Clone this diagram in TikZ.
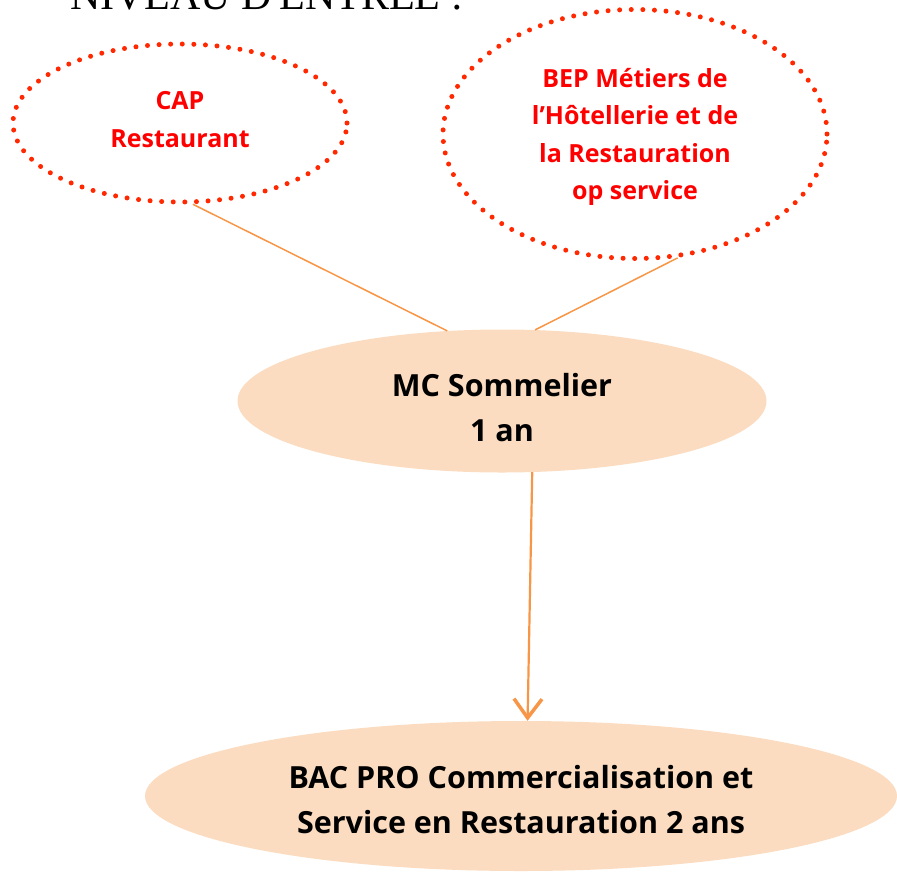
\documentclass[tikz,border=0pt]{standalone}
\usepackage{fontspec}
\setmainfont{Open Sans}
\newfontfamily\titlefont{Liberation Serif}
\usetikzlibrary{shapes.geometric,arrows.meta}
\definecolor{dotred}{RGB}{255,40,0}
\definecolor{txtred}{RGB}{255,0,0}
\definecolor{peach}{RGB}{251,220,192}
\definecolor{linkor}{RGB}{247,150,70}
\newcommand{\nodetext}[2]{\raisebox{#1}[0pt][0pt]{\begin{tabular}{@{}c@{}}#2\end{tabular}}}
\begin{document}
\begin{tikzpicture}[x=1pt,y=-1pt,
  dottedell/.style={ellipse, draw=dotred, line width=5pt, dash pattern=on 0pt off 11.6pt,
    line cap=round, inner sep=0pt, text=txtred,
    font=\fontsize{25}{37.5}\selectfont\bfseries},
  peachell/.style={ellipse, fill=peach, inner sep=0pt,
    font=\fontsize{30.5}{45}\selectfont\bfseries},
  link/.style={draw=linkor, line width=1.5pt},
  arrowlink/.style={draw=linkor, line width=2.2pt,
    -{Straight Barb[length=19pt,width=28pt,line width=3.5pt]}},
  ]
\useasboundingbox (0,0) rectangle (897,871);
\clip (0,0) rectangle (897,871);
\node[anchor=base west, font=\titlefont\fontsize{42}{48}\selectfont, inner sep=0pt] (title) at (70,9) {NIVEAU D'ENTREE :};
\node[dottedell, minimum width=334pt, minimum height=158pt] (cap) at (180,123)
  {\nodetext{-4.25pt}{CAP\\Restaurant}};
\node[dottedell, minimum width=384pt, minimum height=249pt] (bep) at (635,134)
  {\nodetext{-8.25pt}{BEP Métiers de\\l’Hôtellerie et de\\la Restauration\\op service}};
\node[peachell, minimum width=529pt, minimum height=143pt] (mc) at (502,401)
  {\nodetext{-15.6pt}{MC Sommelier\\1 an}};
\node[peachell, minimum width=752pt, minimum height=150pt] (bac) at (521,796)
  {\nodetext{-12.6pt}{BAC PRO Commercialisation et\\Service en Restauration 2 ans}};
\draw[link] (cap.-81) -- (mc.128);
\draw[link] (bep.-71.6) -- (mc.65);
\draw[arrowlink] (mc.-67.4) -- (bac.85.4);
\end{tikzpicture}
\end{document}
